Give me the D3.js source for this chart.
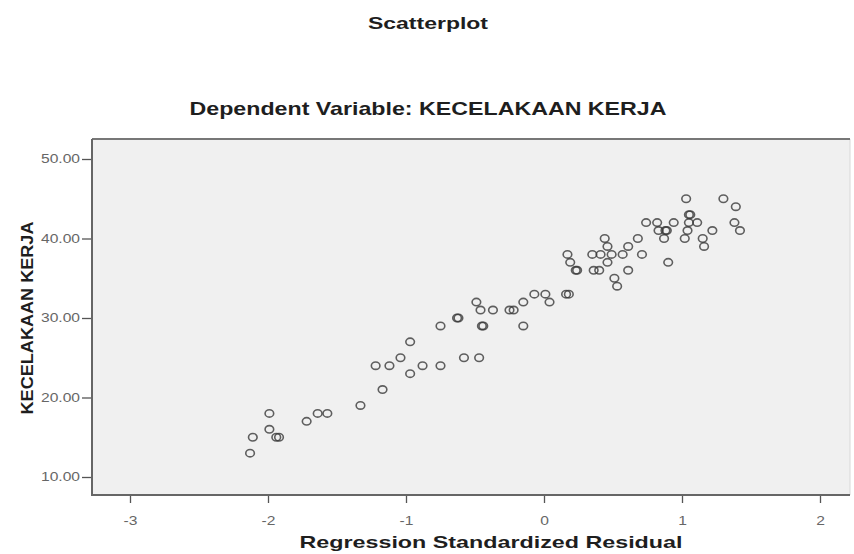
<!DOCTYPE html>
<html>
<head>
<meta charset="utf-8">
<script src="https://cdn.jsdelivr.net/npm/d3@7"></script>
<style>
    body { margin:0; background:#fff; }
    svg text { font-family:"Liberation Sans", Arial, sans-serif; }
</style>
</head>
<body>
<div class="main__area"></div>
<script>
// regression standardized residual (x) vs KECELAKAAN KERJA (y)
const residuals=[
    -2.13,-2.11,-1.99,-1.99,-1.94,-1.92,-1.72,-1.64,-1.57,-1.33,
    -1.17,-1.22,-1.12,-1.04,-0.97,-0.97,-0.88,-0.75,-0.75,-0.63,
    -0.62,-0.58,-0.47,-0.49,-0.46,-0.37,-0.45,-0.44,-0.25,-0.22,
    -0.15,-0.15,-0.07,0.01,0.04,0.16,0.18,0.17,0.19,0.23,
    0.24,0.35,0.41,0.49,0.57,0.44,0.46,0.46,0.36,0.40,
    0.51,0.53,0.61,0.61,0.68,0.71,0.90,0.74,0.82,0.94,
    1.05,1.11,0.83,0.88,0.89,1.04,1.22,0.87,1.02,1.15,
    1.16,1.03,1.30,1.39,1.38,1.42,1.05,1.06
];
const kecelakaan=[
    13,15,16,18,15,15,17,18,18,19,
    21,24,24,25,27,23,24,24,29,30,
    30,25,25,32,31,31,29,29,31,31,
    32,29,33,33,32,33,33,38,37,36,
    36,38,38,38,38,40,39,37,36,36,
    35,34,36,39,40,38,37,42,42,42,
    42,42,41,41,41,41,41,40,40,40,
    39,45,45,44,42,41,43,43
];
const xTicks=[-3,-2,-1,0,1,2];
const yTicks=[10,20,30,40,50];

const width=854;
const height=554;
const frame={ left:92, top:139, right:850, bottom:495 };

const svgTag=d3.select(".main__area").append("svg")
    .attr("width", width)
    .attr("height", height);

const x=d3.scaleLinear().domain([-3,2]).range([130,820]);
const y=d3.scaleLinear().domain([10,50]).range([477,159]);

// the source picture is stretched sideways, so widen text to fit
function stretch(sel, factor) {
    sel.each(function() {
        const len=this.getComputedTextLength();
        d3.select(this).attr("textLength", len*factor).attr("lengthAdjust","spacingAndGlyphs");
    });
}
function title(px, py, size, text, len) {
    return svgTag.append("text")
        .attr("x", px).attr("y", py)
        .attr("text-anchor","middle")
        .attr("font-size", size).attr("font-weight","bold").attr("fill","#1e1e1e")
        .attr("textLength", len).attr("lengthAdjust","spacingAndGlyphs")
        .text(text);
}

title(428, 29, 16, "Scatterplot", 120);
title(428, 115, 19, "Dependent Variable: KECELAKAAN KERJA", 477);

// plot area
svgTag.append("rect")
    .attr("x", frame.left).attr("y", frame.top)
    .attr("width", frame.right-frame.left).attr("height", frame.bottom-frame.top)
    .attr("fill","#f0f0f0");
svgTag.append("line")
    .attr("x1", frame.right).attr("x2", frame.right)
    .attr("y1", frame.top).attr("y2", frame.bottom)
    .attr("stroke","#d8d8d8");
svgTag.append("line")
    .attr("x1", frame.left).attr("x2", frame.right)
    .attr("y1", frame.top).attr("y2", frame.top)
    .attr("stroke","#777").attr("stroke-width", 2);

// axes (plain hyphen for negatives, like the SPSS output)
const xAxis=svgTag.append("g")
    .attr("transform", `translate(0, ${frame.bottom})`)
    .call(d3.axisBottom(x).tickValues(xTicks).tickSize(8).tickPadding(13).tickFormat(d=>String(d)));
const yAxis=svgTag.append("g")
    .attr("transform", `translate(${frame.left}, 0)`)
    .call(d3.axisLeft(y).tickValues(yTicks).tickSize(10).tickPadding(2).tickFormat(d=>d.toFixed(2)));

[xAxis, yAxis].forEach(axis=>{
    axis.select(".domain").remove();
    axis.selectAll(".tick line").attr("stroke","#555").attr("stroke-width", 1.3);
    axis.selectAll(".tick text")
        .attr("fill","#666").attr("font-size", 12)
        .attr("font-family","\"Liberation Sans\", Arial, sans-serif");
    stretch(axis.selectAll(".tick text"), 1.3);
});

svgTag.append("path")
    .attr("d", `M${frame.left},${frame.top}V${frame.bottom}H${frame.right}`)
    .attr("fill","none").attr("stroke","#666").attr("stroke-width", 2);

// axis titles
title(491, 548, 17, "Regression Standardized Residual", 383);
title(0, 0, 17, "KECELAKAAN KERJA", 193)
    .attr("transform", `translate(33, 318) rotate(-90)`);

// points
svgTag.append("g")
    .selectAll("ellipse")
    .data(residuals.map((r, i)=>({ r, v:kecelakaan[i] })))
    .join("ellipse")
    .attr("cx", d=>x(d.r))
    .attr("cy", d=>y(d.v))
    .attr("rx", 4.3)
    .attr("ry", 3.7)
    .attr("fill","none")
    .attr("stroke","#3a3a3a")
    .attr("stroke-opacity", 0.8)
    .attr("stroke-width", 1.6);
</script>
</body>
</html>
